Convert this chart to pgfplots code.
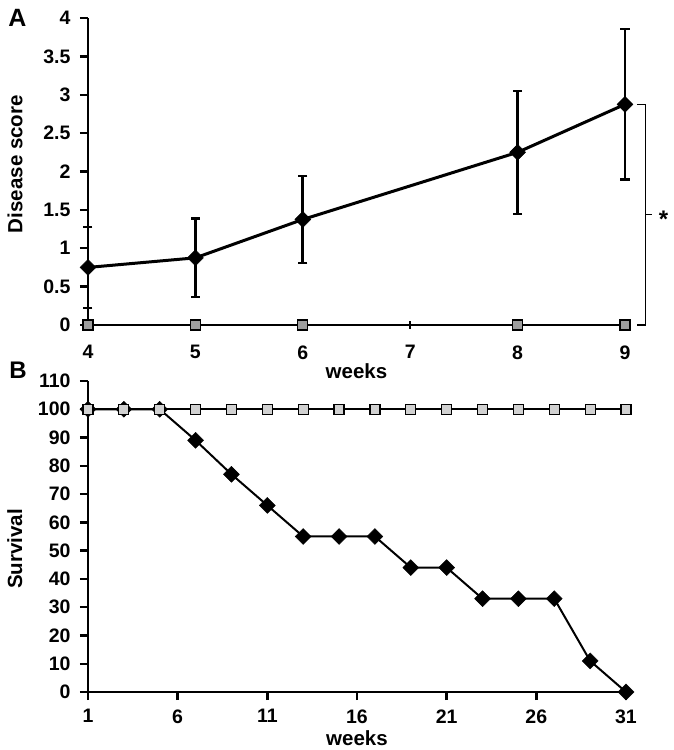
\documentclass[border=0pt]{standalone}
\usepackage{fontspec}
\setmainfont{Liberation Sans}
\usepackage{pgfplots}
\pgfplotsset{compat=1.18}
\definecolor{sqA}{gray}{0.62}
\definecolor{sqB}{gray}{0.82}
\pgfplotsset{
  common/.style={
    scale only axis,
    axis lines*=left,
    axis line style={line width=2.6pt},
    x axis line style={line width=2.6pt},
    y axis line style={line width=2.6pt},
    every tick/.append style={line width=2.4pt, black},
    major tick style={line width=2.4pt, black},
    major tick length=8pt,
    tick align=outside,
    /pgf/number format/assume math mode=true,
    ticklabel style={font=\fontsize{19.5}{22}\bfseries\selectfont},
    label style={font=\fontsize{20.5}{23}\bfseries\selectfont},
    clip=false,
  }
}
\begin{document}
\begin{tikzpicture}[x=1pt,y=1pt]
\path (0,0) rectangle (673,750);
\node[font=\fontsize{25}{28}\bfseries\selectfont] at (17.5,732) {A};
\node[font=\fontsize{24}{27}\bfseries\selectfont] at (18,380) {B};
\begin{axis}[common,
  at={(88pt,425pt)}, anchor=south west,
  width=537pt, height=307pt,
  xmin=4, xmax=9, ymin=0, ymax=4,
  xtick={4,5,6,7,8,9},
  ytick={0,0.5,...,4},
  x tick style={yshift=4pt},
  xticklabel style={yshift=-9pt},
  yticklabel style={xshift=-6pt, /pgf/number format/.cd, fixed, precision=1},
  xlabel={weeks},
  ylabel={Disease score},
  xlabel style={at={(axis description cs:0.5,0)}, anchor=center, yshift=-46pt},
  ylabel style={at={(axis description cs:-0.136,0.524)}, anchor=center},
]
\addplot[draw=none, mark=none,
  error bars/.cd, y dir=both, y explicit,
  error bar style={line width=2.6pt, black}]
  coordinates {
  (4,0.75) +- (0,0.53)
  (5,0.875) +- (0,0.51)
  (6,1.375) +- (0,0.57)
  (8,2.25) +- (0,0.80)
  (9,2.875) +- (0,0.98)
  };
% error bar caps (mean +/- error)
\addplot[only marks, mark=-, mark size=4.5pt, mark options={line width=2.4pt, black}]
  coordinates {
  (4,1.28) (4,0.22) (5,1.385) (5,0.365) (6,1.945) (6,0.805)
  (8,3.05) (8,1.45) (9,3.855) (9,1.895)
  };
\addplot[black, line width=3pt, mark=square*, mark size=5.6pt,
  mark options={rotate=45, fill=black, line width=0.5pt}]
  coordinates {
  (4,0.75) (5,0.875) (6,1.375) (8,2.25) (9,2.875)
  };
\addplot[black, line width=2pt, mark=square*, mark size=5pt,
  mark options={fill=sqA, draw=black, line width=1.2pt}]
  coordinates {(4,0) (5,0) (6,0) (8,0) (9,0)};
\draw[line width=1.5pt] (axis cs:9.11,2.875) -- (axis cs:9.19,2.875) -- (axis cs:9.19,0) -- (axis cs:9.11,0);
\draw[line width=1.5pt] (axis cs:9.19,1.44) -- (axis cs:9.25,1.44);
\node[font=\fontsize{24}{26}\bfseries\selectfont] at (axis cs:9.36,1.38) {*};
\end{axis}
\begin{axis}[common,
  at={(88pt,58pt)}, anchor=south west,
  width=538pt, height=311pt,
  xmin=1, xmax=31, ymin=0, ymax=110,
  xtick={1,6,...,31},
  ytick={0,10,...,110},
  xticklabel style={yshift=-6pt},
  yticklabel style={xshift=-6pt},
  xlabel={weeks},
  ylabel={Survival},
  xlabel style={at={(axis description cs:0.5,0)}, anchor=center, yshift=-46pt},
  ylabel style={at={(axis description cs:-0.136,0.46)}, anchor=center},
]
\addplot[black, line width=2pt, mark=square*, mark size=5.6pt,
  mark options={rotate=45, fill=black, line width=0.5pt}]
  coordinates {
  (1,100) (3,100) (5,100) (7,89) (9,77) (11,66) (13,55) (15,55) (17,55)
  (19,44) (21,44) (23,33) (25,33) (27,33) (29,11) (31,0)
  };
\addplot[black, line width=1.8pt, mark=square*, mark size=5pt,
  mark options={fill=sqB, draw=black, line width=1.2pt}]
  coordinates {
  (1,100) (3,100) (5,100) (7,100) (9,100) (11,100) (13,100) (15,100) (17,100)
  (19,100) (21,100) (23,100) (25,100) (27,100) (29,100) (31,100)
  };
\end{axis}
\end{tikzpicture}
\end{document}
